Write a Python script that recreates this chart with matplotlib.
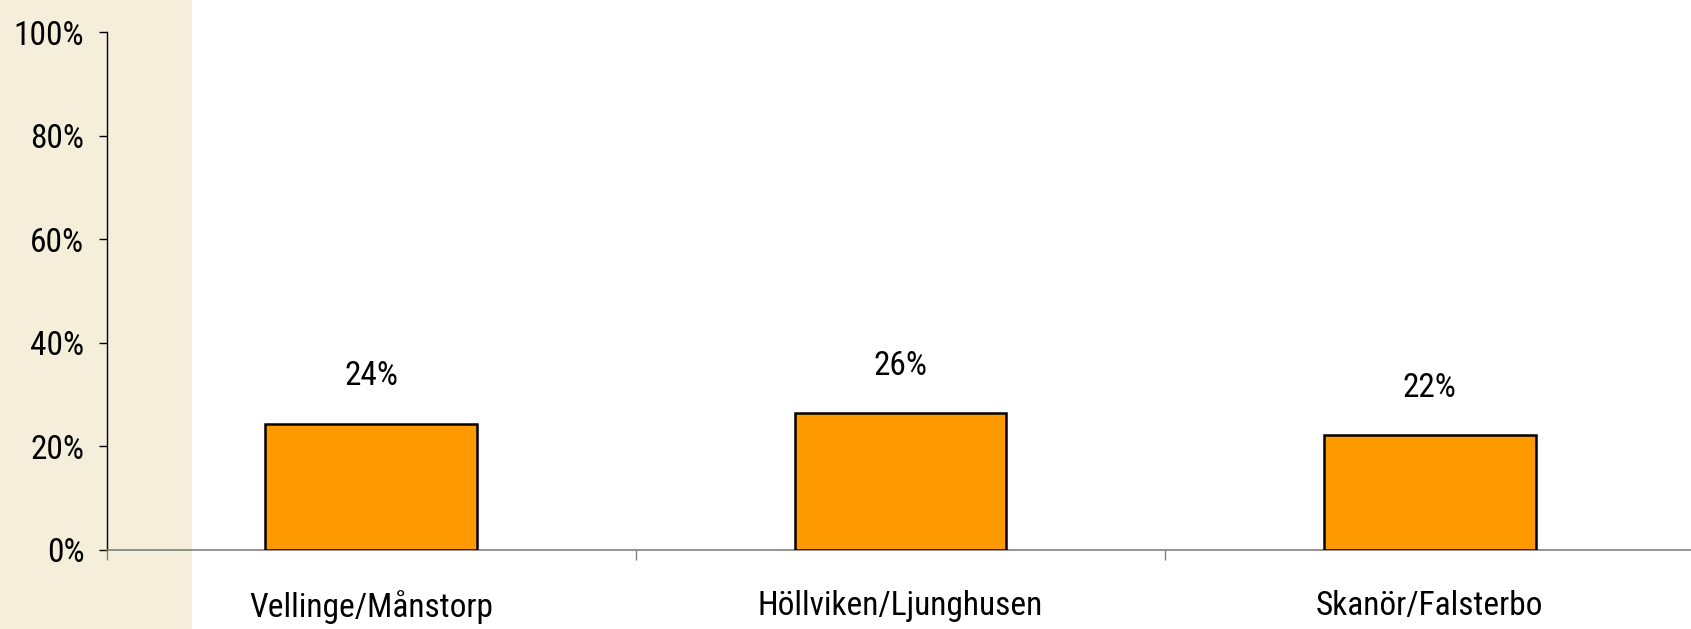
import matplotlib.pyplot as plt
from matplotlib.patches import Rectangle

plt.rcParams['font.family'] = ['Roboto Condensed', 'DejaVu Sans']

areas = ['Vellinge/Månstorp', 'Höllviken/Ljunghusen', 'Skanör/Falsterbo']
shares = [0.244, 0.265, 0.222]
yticks = [0, 0.2, 0.4, 0.6, 0.8, 1.0]
ytick_labels = ['0%', '20%', '40%', '60%', '80%', '100%']

fig = plt.figure(figsize=(16.91, 6.29), dpi=100)

# beige strip at the left edge (slide background)
fig.patches.append(Rectangle((0, 0), 192 / 1691, 1, transform=fig.transFigure,
                             facecolor='#F4EEDA', edgecolor='none', zorder=-10))

ax = fig.add_axes([106.7 / 1691, 79 / 629, 1 - 106.7 / 1691 + 0.002, 517.6 / 629])
ax.set_facecolor('none')

x = range(len(areas))
ax.bar(x, shares, width=0.40, color='#FF9900', edgecolor='black', linewidth=1.8, zorder=3)

for i, v in enumerate(shares):
    ax.annotate(f'{round(v * 100):d}%', (i, v), xytext=(0, 34), textcoords='offset points',
                ha='center', va='center', fontsize=24)

ax.set_xlim(-0.5, 2.5)
ax.set_ylim(0, 1.0)
ax.set_yticks(yticks)
ax.set_yticklabels(ytick_labels, fontsize=24)
ax.set_xticks(list(x))
ax.set_xticklabels(areas, fontsize=24)
ax.tick_params(axis='x', length=0, pad=29)
ax.set_xticks([-0.5, 0.5, 1.5, 2.5], minor=True)
ax.tick_params(axis='x', which='minor', length=7, color='#808080', width=1, direction='out')
ax.tick_params(axis='y', length=6, width=1, color='black', pad=10, direction='out')

for s in ['top', 'right']:
    ax.spines[s].set_visible(False)
ax.spines['left'].set_color('black')
ax.spines['left'].set_linewidth(1)
ax.spines['bottom'].set_color('#808080')
ax.spines['bottom'].set_linewidth(1.2)

fig.savefig('out.png', dpi=100)
